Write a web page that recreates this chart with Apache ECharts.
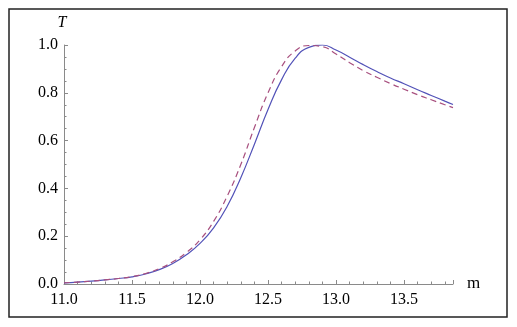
<!DOCTYPE html>
<html lang="en">
<head>
    <meta charset="UTF-8">
    <title>T vs m</title>
    <style>
        html, body {
            margin: 0;
            height: 100%;
            width: 100%;
            overflow: hidden;
            background: #fff;
        }
    </style>
</head>
<body>
<div id="chart" style="width: 517px;height: 327px;"></div>

<script src="https://cdn.jsdelivr.net/npm/echarts@6/dist/echarts.min.js"></script>
<script>
    // values
    var mValues = [11.0, 11.1, 11.2, 11.3, 11.4, 11.5, 11.6, 11.7, 11.8, 11.9,
        12.0, 12.1, 12.2, 12.3, 12.4, 12.5, 12.6, 12.7, 12.8, 12.9,
        13.0, 13.1, 13.2, 13.3, 13.4, 13.5, 13.6, 13.7, 13.8, 13.86];
    var solidT = [0.005, 0.008, 0.012, 0.017, 0.023, 0.030, 0.042, 0.060, 0.086, 0.122,
        0.17, 0.235, 0.325, 0.445, 0.585, 0.73, 0.855, 0.945, 0.99, 1.0,
        0.979, 0.949, 0.918, 0.889, 0.862, 0.838, 0.813, 0.789, 0.765, 0.751];
    var dashedT = [0.005, 0.008, 0.012, 0.017, 0.023, 0.031, 0.044, 0.064, 0.093, 0.132,
        0.185, 0.262, 0.368, 0.50, 0.655, 0.80, 0.91, 0.975, 0.998, 0.993,
        0.962, 0.926, 0.893, 0.865, 0.839, 0.815, 0.792, 0.771, 0.75, 0.738];

    function pairs(ys) {
        return mValues.map(function (m, i) {
            return [m, ys[i]];
        });
    }

    var serif = "'Liberation Serif', 'DejaVu Serif', serif";
    var chart = echarts.init(document.getElementById('chart'));
    chart.setOption({
        backgroundColor: '#fff',
        animation: false,
        textStyle: {fontFamily: serif},
        graphic: [{
            type: 'rect',
            shape: {x: 9, y: 9, width: 498, height: 308},
            style: {fill: 'none', stroke: '#222', lineWidth: 1.5}
        }],
        grid: {left: 64, top: 45, width: 389, height: 239},
        xAxis: {
            type: 'value',
            min: 11,
            max: 13.86,
            interval: 0.5,
            name: 'm',
            nameLocation: 'end',
            nameGap: 14,
            nameTextStyle: {fontFamily: serif, fontSize: 17, color: '#000'},
            axisLine: {lineStyle: {color: '#8a8a8a', width: 1}},
            axisTick: {inside: true, length: 4, lineStyle: {color: '#8a8a8a'}},
            minorTick: {show: true, splitNumber: 5, length: 2.5, lineStyle: {color: '#8a8a8a'}},
            splitLine: {show: false},
            axisLabel: {
                fontFamily: serif, fontSize: 16, color: '#000', margin: 8,
                showMaxLabel: false,
                formatter: function (v) { return v.toFixed(1); }
            }
        },
        yAxis: {
            type: 'value',
            min: 0,
            max: 1,
            interval: 0.2,
            name: 'T',
            nameLocation: 'end',
            nameGap: 14,
            nameTextStyle: {fontFamily: serif, fontSize: 16, fontStyle: 'italic', color: '#000', padding: [0, 4, 0, 0]},
            axisLine: {show: true, lineStyle: {color: '#8a8a8a', width: 1}},
            axisTick: {show: true, inside: true, length: 4, lineStyle: {color: '#8a8a8a'}},
            minorTick: {show: true, splitNumber: 4, length: 2.5, lineStyle: {color: '#8a8a8a'}},
            splitLine: {show: false},
            axisLabel: {
                fontFamily: serif, fontSize: 16, color: '#000', margin: 6,
                formatter: function (v) { return v.toFixed(1); }
            }
        },
        series: [{
            name: 'solid',
            type: 'line',
            data: pairs(solidT),
            smooth: true,
            showSymbol: false,
            lineStyle: {color: '#5252b8', width: 1.2}
        }, {
            name: 'dashed',
            type: 'line',
            data: pairs(dashedT),
            smooth: true,
            showSymbol: false,
            lineStyle: {color: '#a8507f', width: 1.2, type: [6, 4]}
        }]
    });
</script>
</body>
</html>
